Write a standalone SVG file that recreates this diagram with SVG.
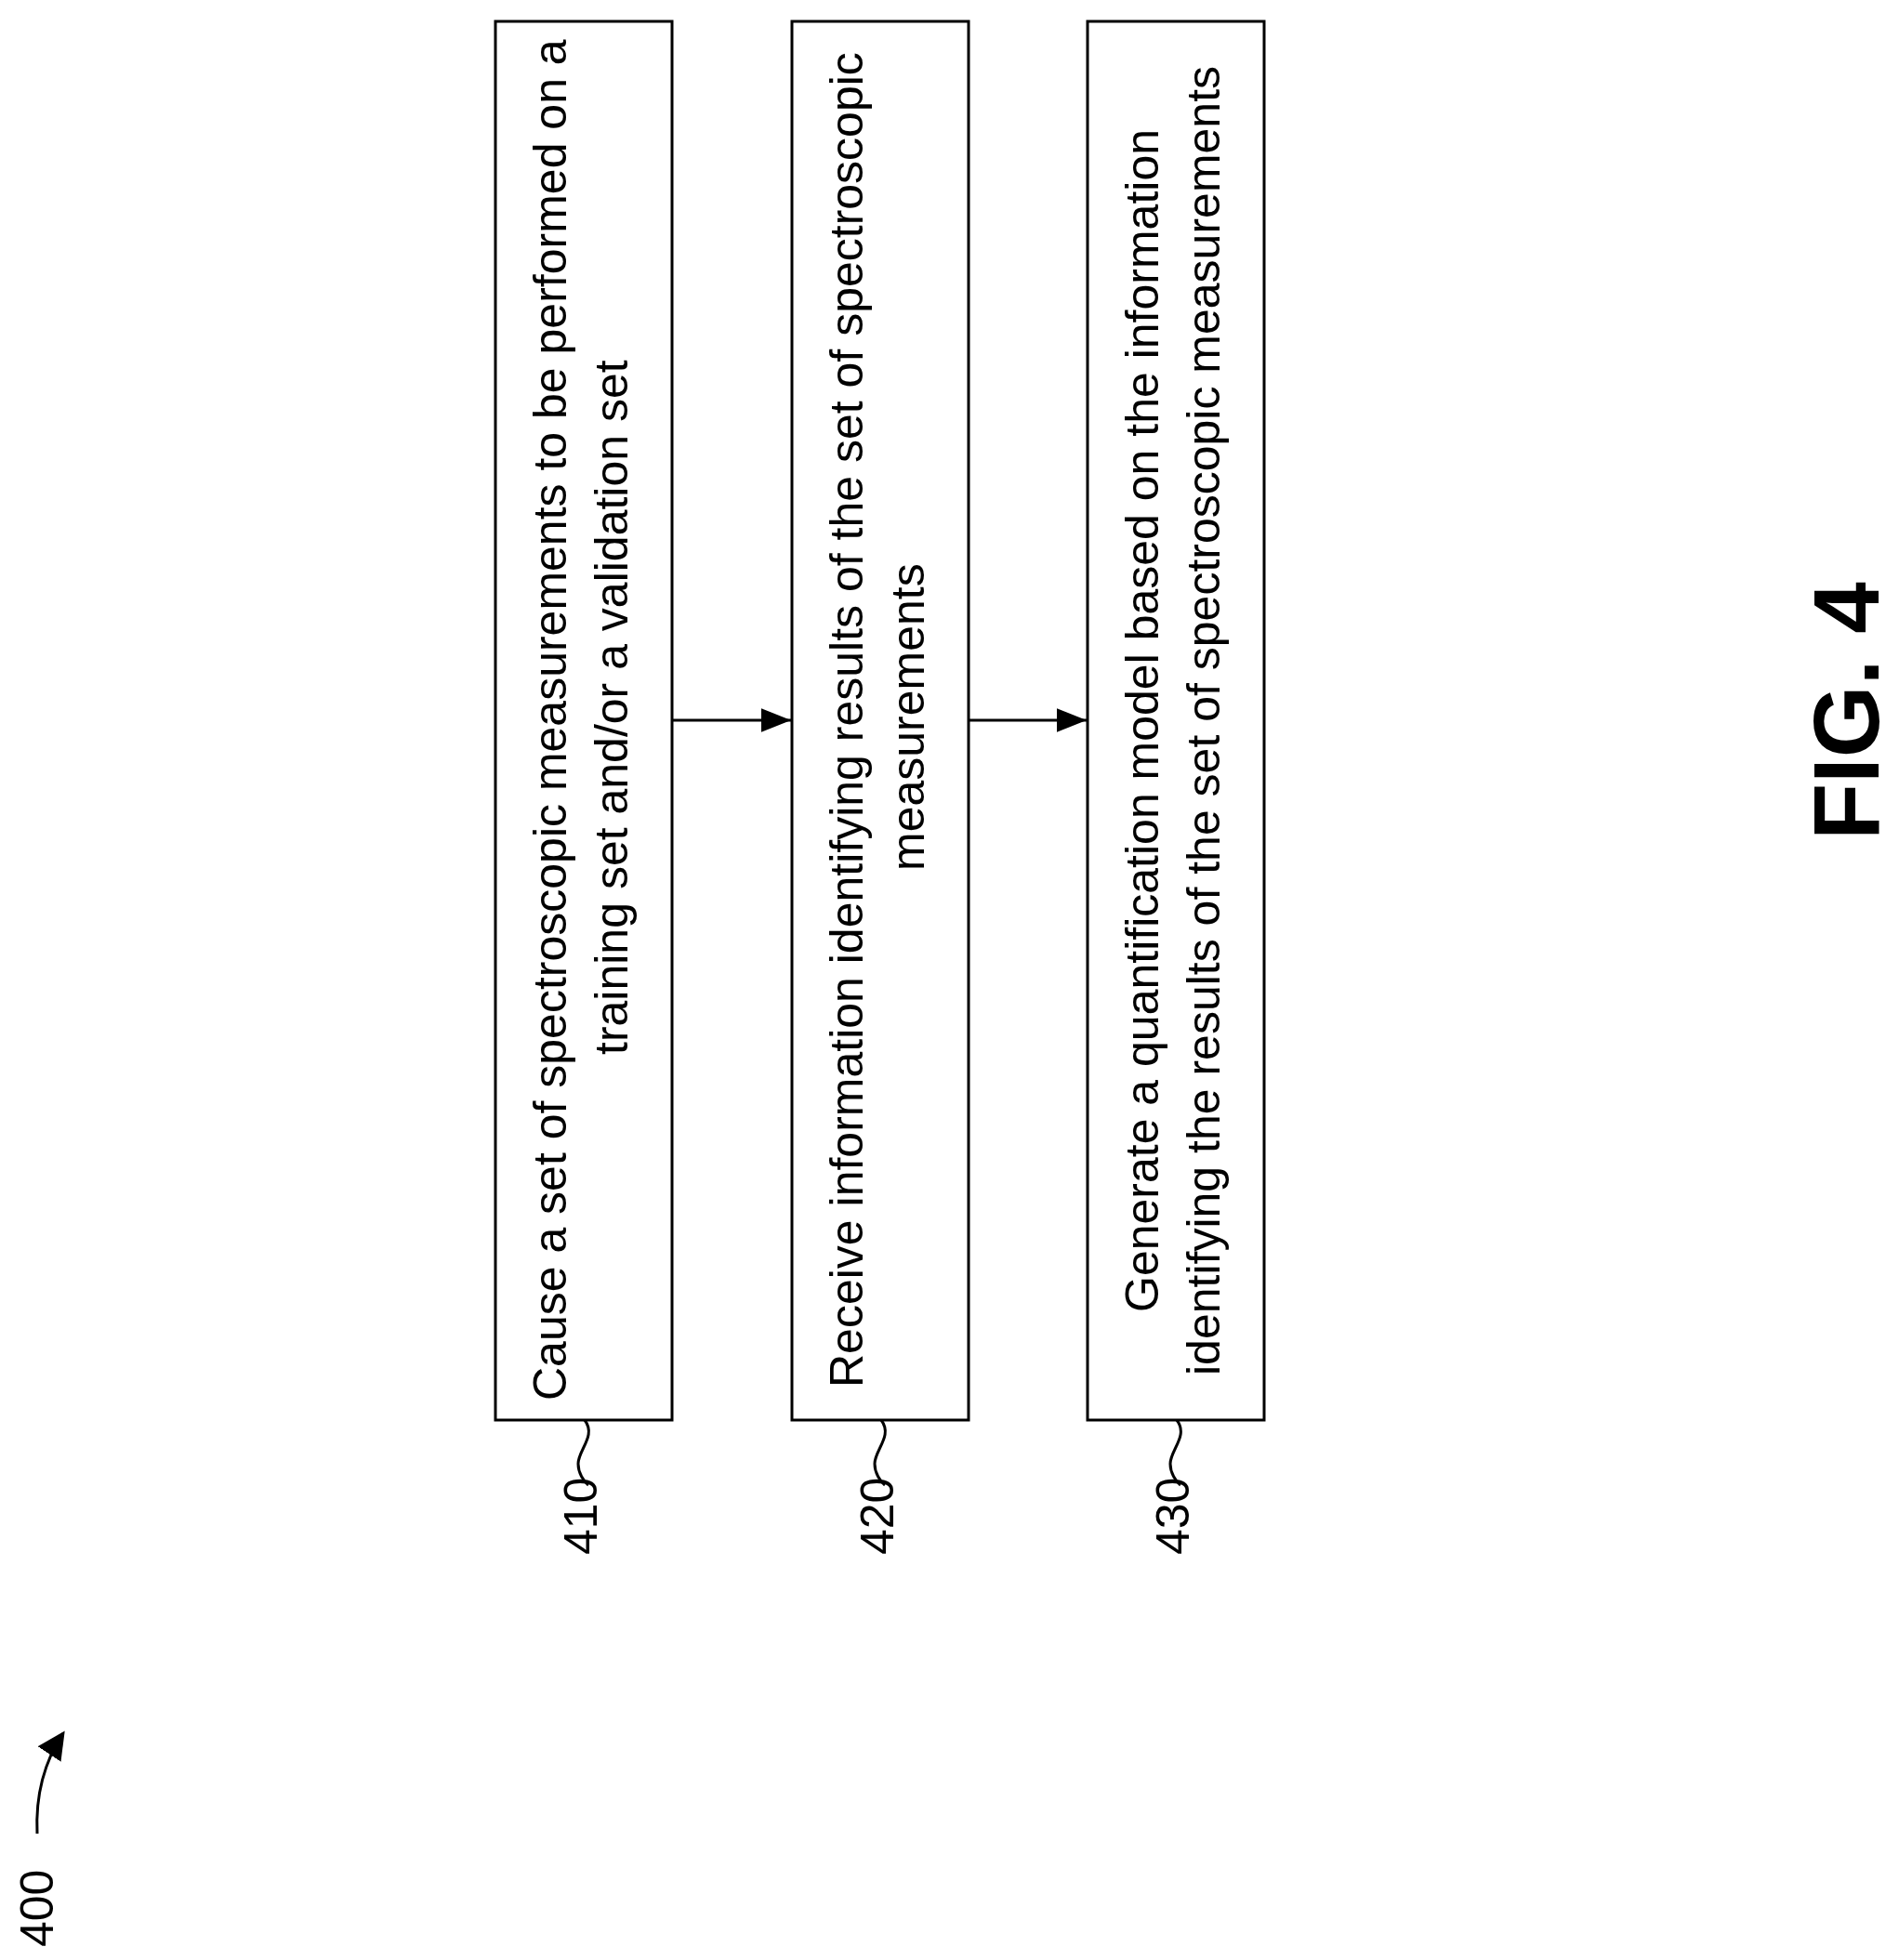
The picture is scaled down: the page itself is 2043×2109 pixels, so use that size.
<svg xmlns="http://www.w3.org/2000/svg" width="2043" height="2109" viewBox="0 0 2043 2109">
<style>
.box{fill:#fff;stroke:#000;stroke-width:3}
.t{font-family:"Liberation Sans",Arial,sans-serif;font-size:50px;fill:#000}
.ln{fill:none;stroke:#000;stroke-width:3}
</style>
<defs>
<marker id="ah" viewBox="0 0 10 10" refX="9" refY="5" markerWidth="30" markerHeight="30" markerUnits="userSpaceOnUse" orient="auto">
<path d="M0,0 L10,5 L0,10 z" fill="#000"/>
</marker>
<marker id="ah2" viewBox="0 0 10 8" refX="10" refY="4" markerWidth="32" markerHeight="26" orient="auto" markerUnits="userSpaceOnUse">
<path d="M0,0 L10,4 L0,8 z" fill="#000"/>
</marker>
</defs>
<rect width="2043" height="2109" fill="#fff"/>
<g id="n410">
<rect class="box" x="533" y="23" width="190" height="1505"/>
<text class="t" transform="translate(609,1507) rotate(-90)">Cause a set of spectroscopic measurements to be performed on a</text>
<text class="t" transform="translate(675,1135) rotate(-90)">training set and/or a validation set</text>
<path class="ln" d="M629,1528 C642,1545 622,1560 622,1575 C622,1585 628,1594 633,1598"/>
<text class="t" transform="translate(642,1673) rotate(-90)">410</text>
</g>
<g id="n420">
<rect class="box" x="852" y="23" width="190" height="1505"/>
<text class="t" transform="translate(928,1493) rotate(-90)">Receive information identifying results of the set of spectroscopic</text>
<text class="t" transform="translate(994,937) rotate(-90)">measurements</text>
<path class="ln" d="M948,1528 C961,1545 941,1560 941,1575 C941,1585 947,1594 952,1598"/>
<text class="t" transform="translate(961,1673) rotate(-90)">420</text>
</g>
<g id="n430">
<rect class="box" x="1170" y="23" width="190" height="1505"/>
<text class="t" transform="translate(1246,1412) rotate(-90)">Generate a quantification model based on the information</text>
<text class="t" transform="translate(1312,1480) rotate(-90)">identifying the results of the set of spectroscopic measurements</text>
<path class="ln" d="M1266,1528 C1279,1545 1259,1560 1259,1575 C1259,1585 1265,1594 1270,1598"/>
<text class="t" transform="translate(1279,1673) rotate(-90)">430</text>
</g>
<g id="connectors">
<line class="ln" x1="723" y1="775" x2="851" y2="775" marker-end="url(#ah2)"/>
<line class="ln" x1="1042" y1="775" x2="1169" y2="775" marker-end="url(#ah2)"/>
<path class="ln" d="M40,1973 C38,1930 48,1895 68,1865" marker-end="url(#ah)" stroke-width="4"/>
</g>
<g id="n400">
<text class="t" transform="translate(57,2095) rotate(-90)">400</text>
</g>
<text transform="translate(2021,904) rotate(-90)" style="font-family:'Liberation Sans',Arial,sans-serif;font-weight:bold;font-size:100px">FIG. 4</text>
</svg>
